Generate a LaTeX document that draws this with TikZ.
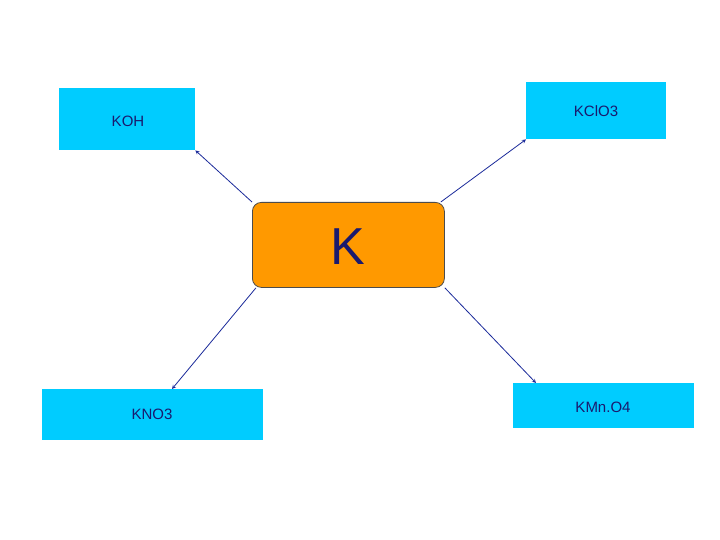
\documentclass[tikz,border=0pt]{standalone}
\usepackage{fontspec}
\setmainfont{Liberation Sans}
\usetikzlibrary{calc}
\definecolor{cy}{HTML}{00CCFF}
\definecolor{txt}{HTML}{1A1A6E}
\definecolor{ar}{HTML}{1A2A9A}
\definecolor{orng}{HTML}{FF9900}
\begin{document}
\begin{tikzpicture}[x=1pt,y=-1pt,
  box/.style={fill=cy,draw=none,anchor=north west,inner sep=0pt},
  lab/.style={text=txt,font=\fontsize{15}{18}\selectfont},
  con/.style={draw=ar,line width=0.8pt,-stealth}]
\useasboundingbox (0,0) rectangle (720,540);
\fill[white] (0,0) rectangle (720,540);
\node[box,minimum width=136pt,minimum height=62pt] (koh) at (59,88) {};
\node[lab] at (128,121) {KOH};
\node[box,minimum width=140pt,minimum height=57pt] (kclo) at (526,82) {};
\node[lab] at (596,111) {KClO3};
\node[box,minimum width=221pt,minimum height=51pt] (kno) at (42,389) {};
\node[lab] at (152,414) {KNO3};
\node[box,minimum width=181pt,minimum height=45pt] (kmno) at (513,383) {};
\node[lab] at (603,407) {KMn.O4};
\node[fill=orng,draw=black!70,rounded corners=9pt,line width=0.8pt,
  minimum width=192pt,minimum height=85pt,anchor=north west] (k) at (252,202) {};
\node[text=txt,font=\fontsize{52}{60}\selectfont] at (348,247) {K};
\coordinate (a1) at ($(kno.north west)+(130,0)$);
\coordinate (a2) at ($(kmno.north west)+(23,0)$);
\draw[con] (k.north west) -- (koh.south east);
\draw[con] ($(k.north east)+(-4,0)$) -- (kclo.south west);
\draw[con] ($(k.south west)+(4,0)$) -- (a1);
\draw[con] (k.south east) -- (a2);
\end{tikzpicture}
\end{document}
